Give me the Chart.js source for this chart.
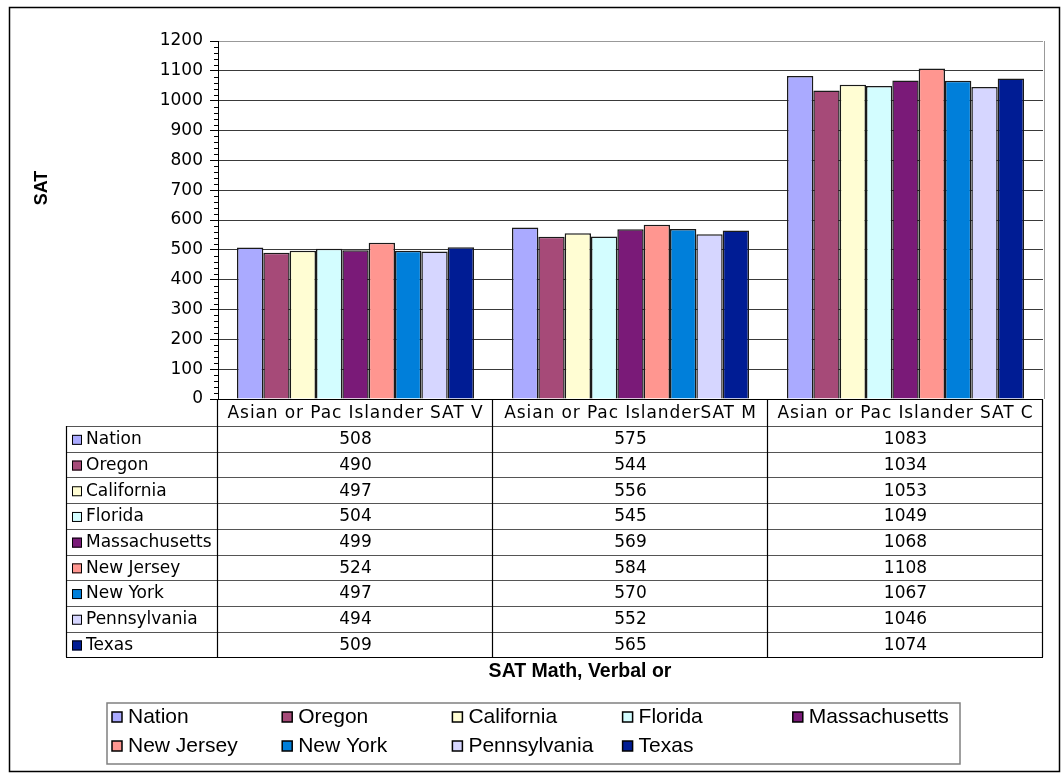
<!DOCTYPE html>
<html>
<head>
<meta charset="utf-8">
<script src="https://cdn.jsdelivr.net/npm/chart.js@4.4.1/dist/chart.umd.min.js"></script>
<style>
  body { margin: 0; background: #fff; }
  canvas { display: block; }
</style>
</head>
<body>
<canvas id="myChart" width="1063" height="774"></canvas>
<script>
/* global Chart */

// data
const categories = ['Asian or Pac Islander SAT V', 'Asian or Pac IslanderSAT M', 'Asian or Pac Islander SAT C'];
const states = ['Nation', 'Oregon', 'California', 'Florida', 'Massachusetts', 'New Jersey', 'New York', 'Pennsylvania', 'Texas'];
const nation = [508, 575, 1083];
const oregon = [490, 544, 1034];
const california = [497, 556, 1053];
const florida = [504, 545, 1049];
const massachusetts = [499, 569, 1068];
const newJersey = [524, 584, 1108];
const newYork = [497, 570, 1067];
const pennsylvania = [494, 552, 1046];
const texas = [509, 565, 1074];
const yMin = 0;
const yMax = 1200;
const yStep = 100;
const yMinorStep = 20;
const yTitle = 'SAT';
const xTitle = 'SAT Math, Verbal or';

const seriesValues = [nation, oregon, california, florida, massachusetts, newJersey, newYork, pennsylvania, texas];
const colors = ['#AAAAFF', '#A64A78', '#FFFDD3', '#D3FDFF', '#7A1A78', '#FF9690', '#007FDA', '#D6D6FF', '#001C94'];

// draws the Excel style frame, data table, axis titles and legend
const tablePlugin = {
  id: 'excelTable',
  beforeDraw(chart) {
    const ctx = chart.ctx;
    ctx.save();
    ctx.fillStyle = '#fff';
    ctx.fillRect(0, 0, chart.width, chart.height);
    ctx.restore();
  },
  afterDraw(chart) {
    const ctx = chart.ctx;
    const area = chart.chartArea;
    const x = chart.scales.x;
    const y = chart.scales.y;
    const colW = (area.right - area.left) / categories.length;
    const tableLeft = 66;
    const headerBottom = 426;
    const rowH = 25.7;
    const tableBottom = headerBottom + rowH * states.length;

    ctx.save();

    // minor ticks on the value axis
    ctx.strokeStyle = '#000';
    ctx.lineWidth = 1;
    for (let v = yMin; v <= yMax; v += yMinorStep) {
      if (v % yStep === 0) continue;
      const py = Math.round(y.getPixelForValue(v)) + 0.5;
      ctx.beginPath();
      ctx.moveTo(area.left - 4, py);
      ctx.lineTo(area.left, py);
      ctx.stroke();
    }

    // plot area right border
    ctx.strokeStyle = '#999';
    ctx.beginPath();
    ctx.moveTo(area.right + 1.5, area.top);
    ctx.lineTo(area.right + 1.5, area.bottom);
    ctx.stroke();

    // table lines
    ctx.strokeStyle = '#555';
    ctx.lineWidth = 1.2;
    for (let r = 0; r < states.length; r++) {
      const ly = Math.round(headerBottom + rowH * r) + 0.5;
      ctx.beginPath();
      ctx.moveTo(tableLeft, ly);
      ctx.lineTo(area.right, ly);
      ctx.stroke();
    }
    ctx.strokeStyle = '#000';
    ctx.beginPath();
    ctx.moveTo(area.left, area.bottom + 0.5);
    ctx.lineTo(area.right, area.bottom + 0.5);
    ctx.moveTo(tableLeft, Math.round(tableBottom) + 0.5);
    ctx.lineTo(area.right, Math.round(tableBottom) + 0.5);
    ctx.moveTo(tableLeft + 0.5, headerBottom);
    ctx.lineTo(tableLeft + 0.5, tableBottom);
    for (let i = 0; i <= categories.length; i++) {
      const lx = Math.round(area.left + colW * i) - 0.5;
      ctx.moveTo(lx, area.bottom);
      ctx.lineTo(lx, tableBottom);
    }
    ctx.stroke();

    // header texts
    ctx.fillStyle = '#000';
    ctx.textAlign = 'center';
    ctx.textBaseline = 'middle';
    ctx.font = '17px "DejaVu Sans"';
    ctx.letterSpacing = '0.9px';
    categories.forEach((c, i) => {
      ctx.fillText(c, x.getPixelForValue(i), (area.bottom + headerBottom) / 2 + 1);
    });
    ctx.letterSpacing = '0px';

    // table rows
    chart.data.datasets.forEach((ds, r) => {
      const cy = headerBottom + rowH * (r + 0.5) + 1;
      ctx.fillStyle = ds.backgroundColor;
      ctx.fillRect(tableLeft + 6, cy - 5, 10, 10);
      ctx.strokeStyle = '#000';
      ctx.lineWidth = 1;
      ctx.strokeRect(tableLeft + 6.5, cy - 4.5, 9, 9);
      ctx.fillStyle = '#000';
      ctx.textAlign = 'left';
      ctx.fillText(ds.label, tableLeft + 20, cy);
      ctx.textAlign = 'center';
      ds.data.forEach((v, i) => {
        ctx.fillText(String(v), x.getPixelForValue(i), cy);
      });
    });

    // axis titles
    ctx.font = 'bold 19.5px "Liberation Sans"';
    ctx.fillText(xTitle, 580, 672);
    ctx.save();
    ctx.translate(42, 188);
    ctx.rotate(-Math.PI / 2);
    ctx.font = 'bold 18px "Liberation Sans"';
    ctx.fillText(yTitle, 0, 0);
    ctx.restore();

    // legend
    ctx.strokeStyle = '#808080';
    ctx.lineWidth = 1.5;
    ctx.strokeRect(107, 703, 853, 61);
    ctx.font = '21px "Liberation Sans"';
    ctx.textAlign = 'left';
    chart.data.datasets.forEach((ds, i) => {
      const kx = 112 + (i % 5) * 170.2;
      const ky = 717 + Math.floor(i / 5) * 29;
      ctx.fillStyle = ds.backgroundColor;
      ctx.fillRect(kx, ky - 5, 10, 10);
      ctx.strokeStyle = '#000';
      ctx.lineWidth = 1.5;
      ctx.strokeRect(kx, ky - 5, 10, 10);
      ctx.fillStyle = '#000';
      ctx.fillText(ds.label, kx + 16, ky);
    });

    // outer frame
    ctx.strokeStyle = '#000';
    ctx.lineWidth = 1.5;
    ctx.strokeRect(9.5, 7.5, 1050, 764);

    ctx.restore();
  }
};

const ctx = document.getElementById('myChart').getContext('2d');
const myChart = new Chart(ctx, {
  type: 'bar',
  data: {
    labels: categories,
    datasets: states.map((s, i) => ({
      label: s,
      data: seriesValues[i],
      backgroundColor: colors[i],
      borderColor: '#1a1a1a',
      borderWidth: 1.5,
      categoryPercentage: 0.862,
      barPercentage: 1
    }))
  },
  options: {
    responsive: false,
    animation: false,
    layout: { padding: { left: 0, top: 41, right: 20, bottom: 375 } },
    plugins: {
      legend: { display: false },
      tooltip: { enabled: false }
    },
    scales: {
      x: {
        grid: { display: false },
        ticks: { display: false },
        border: { display: false },
        afterFit(scale) { scale.height = 0; }
      },
      y: {
        min: yMin,
        max: yMax,
        ticks: {
          stepSize: yStep,
          padding: 7,
          color: '#000',
          font: { family: '"DejaVu Sans"', size: 17 },
          callback: (v) => String(v)
        },
        grid: {
          color: (c) => (c.tick && c.tick.value === yMax ? '#999' : '#3a3a3a'),
          tickColor: '#000',
          tickLength: 8
        },
        border: { color: '#000', width: 1 },
        afterFit(scale) { scale.width = 218; }
      }
    }
  },
  plugins: [tablePlugin]
});
</script>
</body>
</html>
